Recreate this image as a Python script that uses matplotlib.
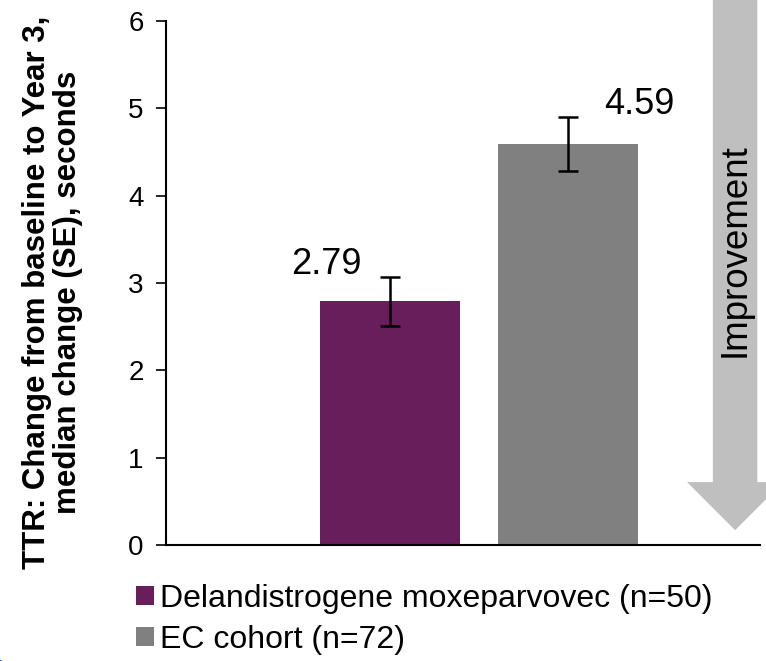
import matplotlib
matplotlib.use('Agg')
from matplotlib import pyplot as plt
from matplotlib.patches import Polygon, Circle

plt.rcParams['font.family'] = ['Liberation Sans', 'DejaVu Sans']

groups = ['Delandistrogene moxeparvovec (n=50)', 'EC cohort (n=72)']
medians = [2.79, 4.59]
se = [0.28, 0.31]
colors = ['#681e5b', '#808080']
value_labels = ['2.79', '4.59']
label_shift = [-0.36, 0.4]
yticks = [0, 1, 2, 3, 4, 5, 6]

fig = plt.figure(figsize=(7.66, 6.61), dpi=100)
ax = fig.add_axes([166 / 766, 1 - 545 / 661, (760 - 166) / 766, (545 - 21) / 661])

xpos = [1, 2]
for x, m, e, c, lab, vl, sh in zip(xpos, medians, se, colors, groups, value_labels, label_shift):
    ax.bar(x, m, width=0.79, color=c, label=lab, zorder=2)
    ax.errorbar(x, m, yerr=e, fmt='none', ecolor='black', elinewidth=1.8, capsize=7, capthick=1.8, zorder=3)
    ax.text(x + sh, m + e + 0.03, vl, ha='center', va='baseline', fontsize=26)

# big improvement arrow on the right
ax_x = 2.94
arrow = Polygon([(ax_x - 0.125, 6.25), (ax_x + 0.125, 6.25), (ax_x + 0.125, 0.72),
                 (ax_x + 0.27, 0.72), (ax_x, 0.17), (ax_x - 0.27, 0.72), (ax_x - 0.125, 0.72)],
                closed=True, facecolor='#bfbfbf', edgecolor='none', clip_on=False, zorder=1)
ax.add_patch(arrow)
ax.text(ax_x, 3.38, 'Improvement', rotation=90, ha='center', va='center', fontsize=26.5, zorder=2)

ax.set_xlim(-0.26, 3.08)
ax.set_ylim(0, 6)
ax.set_yticks(yticks)
ax.set_xticks([])
ax.tick_params(axis='y', direction='out', length=7, width=1.2, labelsize=20, pad=9)
ax.spines['top'].set_visible(False)
ax.spines['right'].set_visible(False)
for s in ['left', 'bottom']:
    ax.spines[s].set_linewidth(1.5)

fig.text(0.068, 1 - 292 / 661, 'TTR: Change from baseline to Year 3,\nmedian change (SE), seconds',
         rotation=90, ha='center', va='center', fontsize=22.5, fontweight='bold', linespacing=1.05)

leg = ax.legend(loc='upper left', bbox_to_anchor=(-0.072, -0.05), frameon=False, fontsize=23,
                handlelength=0.55, handleheight=0.55, handletextpad=0.2, labelspacing=0.35,
                borderaxespad=0)

# slide decoration in the corner
fig.patches.append(Circle((-0.03, -0.05), 0.06, transform=fig.transFigure, facecolor='#1f4fd1',
                          edgecolor='none'))
fig.patches.append(Circle((-0.03, -0.05), 0.057, transform=fig.transFigure, facecolor='white',
                          edgecolor='none'))

fig.savefig('out.png', dpi=100)
